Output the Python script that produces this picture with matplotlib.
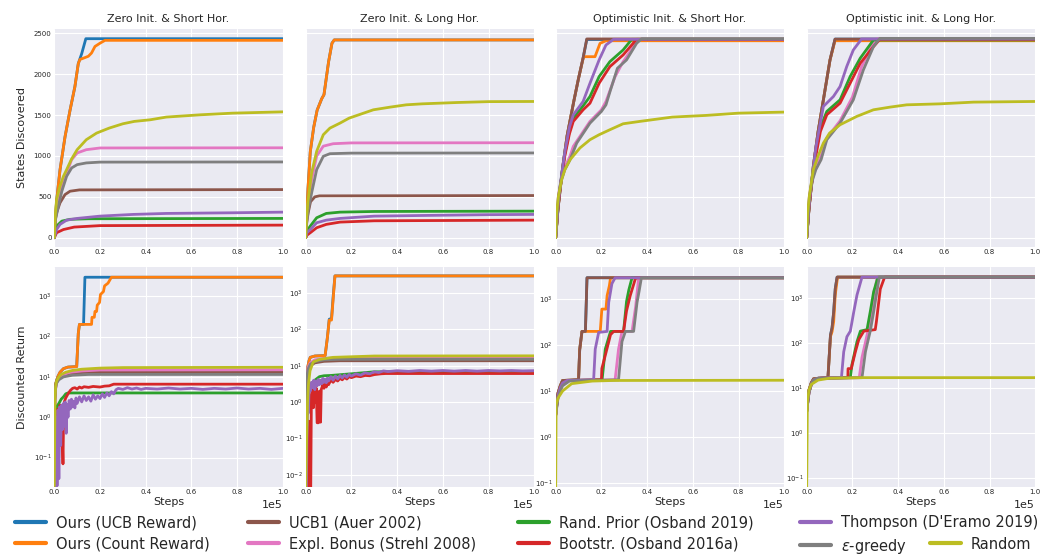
import matplotlib
matplotlib.use('Agg')
import matplotlib.pyplot as plt
from matplotlib.lines import Line2D

plt.style.use('seaborn-v0_8-darkgrid')
plt.rcParams['font.family'] = ['DejaVu Sans']

# ---------------- metadata ----------------
methods = ['ucb', 'count', 'ucb1', 'expl', 'prior', 'boot', 'thompson', 'egreedy', 'random']
labels = {
    'ucb': 'Ours (UCB Reward)', 'count': 'Ours (Count Reward)',
    'ucb1': 'UCB1 (Auer 2002)', 'expl': 'Expl. Bonus (Strehl 2008)',
    'prior': 'Rand. Prior (Osband 2019)', 'boot': 'Bootstr. (Osband 2016a)',
    'thompson': "Thompson (D'Eramo 2019)", 'egreedy': r'$\epsilon$-greedy',
    'random': 'Random',
}
colors = {
    'ucb': '#1f77b4', 'count': '#ff7f0e', 'ucb1': '#8c564b', 'expl': '#e377c2',
    'prior': '#2ca02c', 'boot': '#d62728', 'thompson': '#9467bd',
    'egreedy': '#7f7f7f', 'random': '#bcbd22',
}
titles = ['Zero Init. & Short Hor.', 'Zero Init. & Long Hor.',
          'Optimistic Init. & Short Hor.', 'Optimistic init. & Long Hor.']

# ---------------- data (x in thousands of steps) ----------------
# States discovered, Zero Init & Short Hor.
states_zs = {
    'ucb': ([0, 1, 2.5, 4.7, 6.9, 9, 10.5, 12, 13.8, 100],
            [0, 450, 830, 1236, 1562, 1846, 2131, 2253, 2435, 2435]),
    'count': ([0, 1, 2.5, 4.7, 6.9, 9, 10.5, 11.2, 14.9, 16.3, 17.8, 20, 22.2, 100],
              [0, 450, 830, 1236, 1562, 1846, 2131, 2180, 2220, 2260, 2340, 2380, 2415, 2415]),
    'ucb1': ([0, 0.3, 1, 2.5, 4.7, 6.9, 11, 100],
             [0, 200, 305, 427, 528, 569, 585, 589]),
    'expl': ([0, 0.5, 1.8, 3.3, 5.4, 7.6, 10, 14, 20, 100],
             [0, 250, 467, 630, 793, 955, 1037, 1077, 1098, 1100]),
    'prior': ([0, 1, 3.3, 6.9, 15, 100],
              [0, 142, 203, 225, 232, 236]),
    'boot': ([0, 1, 4, 8.7, 20, 100],
             [0, 61, 100, 130, 148, 154]),
    'thompson': ([0, 1, 2.5, 5.4, 10, 20, 34.5, 49, 78, 100],
                 [0, 100, 163, 215, 236, 264, 285, 297, 305, 313]),
    'egreedy': ([0, 0.5, 1.8, 3.3, 5.4, 7.6, 10, 14, 20, 100],
                [0, 220, 386, 569, 752, 854, 894, 915, 925, 927]),
    'random': ([0, 0.5, 1, 2.5, 4, 5.4, 7.5, 10, 14, 18.5, 24, 30, 35, 42, 49, 64, 78, 100],
               [0, 300, 467, 630, 752, 833, 960, 1077, 1199, 1280, 1341, 1394, 1423, 1443, 1476, 1504, 1524, 1540]),
}

# States discovered, Zero Init & Long Hor.
states_zl = {
    'ucb': ([0, 1, 2, 3.5, 5, 7, 8, 10, 11.5, 12.5, 100],
            [0, 600, 1050, 1350, 1560, 1700, 1750, 2150, 2380, 2420, 2420]),
    'count': ([0, 1, 2, 3.5, 5, 7, 8, 10, 11.5, 12.5, 100],
              [0, 600, 1050, 1350, 1560, 1700, 1750, 2150, 2380, 2420, 2420]),
    'ucb1': ([0, 0.4, 1.1, 2.1, 4, 6, 100],
             [0, 180, 305, 440, 500, 512, 516]),
    'expl': ([0, 0.5, 1, 2.6, 4.8, 7.7, 12, 20, 100],
             [0, 250, 400, 711, 1000, 1120, 1150, 1160, 1162]),
    'prior': ([0, 0.5, 2, 4.8, 9, 15, 30, 100],
              [0, 80, 142, 244, 297, 313, 321, 325]),
    'boot': ([0, 0.5, 2, 4.8, 9, 15, 30, 100],
             [0, 30, 61, 122, 163, 191, 207, 215]),
    'thompson': ([0, 0.5, 2, 4.8, 9, 15, 30, 51, 80, 100],
                 [0, 60, 100, 183, 215, 236, 264, 272, 282, 285]),
    'egreedy': ([0, 0.5, 1, 2.6, 4.8, 7.7, 10.6, 20, 100],
                [0, 200, 320, 549, 833, 996, 1028, 1035, 1037]),
    'random': ([0, 0.4, 1, 2.6, 4.8, 7.7, 10.6, 15, 19, 22, 29.6, 37, 44, 51, 66, 80, 100],
               [0, 250, 450, 793, 1057, 1260, 1341, 1402, 1463, 1492, 1565, 1598, 1626, 1638, 1654, 1665, 1667]),
}

# States discovered, Optimistic Init & Short Hor.
states_os = {
    'ucb': ([0, 1, 3, 5, 8, 10, 12, 13.6, 100],
            [0, 350, 850, 1250, 1680, 1950, 2200, 2425, 2425]),
    'count': ([0, 1, 3, 5, 8, 10, 11.5, 12.2, 17.2, 19.4, 22, 100],
              [0, 350, 850, 1250, 1680, 1950, 2134, 2215, 2215, 2378, 2410, 2410]),
    'ucb1': ([0, 1, 3, 5, 8, 10, 12, 13.6, 100],
             [0, 350, 850, 1250, 1680, 1950, 2200, 2432, 2432]),
    'expl': ([0, 1.2, 2.6, 4, 6.3, 7.7, 15, 20, 22, 26, 29.5, 34, 36, 100],
             [0, 520, 730, 860, 1000, 1118, 1423, 1565, 1667, 1971, 2154, 2337, 2427, 2427]),
    'prior': ([0, 1, 2, 4, 6, 7.7, 12, 15, 19, 23.7, 29.5, 33.3, 100],
              [0, 370, 640, 1030, 1300, 1463, 1614, 1728, 1971, 2154, 2297, 2427, 2427]),
    'boot': ([0, 1, 2, 4, 6, 7.7, 12, 15, 19, 23.7, 29.5, 35.4, 100],
             [0, 360, 620, 1000, 1270, 1423, 1565, 1646, 1890, 2093, 2236, 2427, 2427]),
    'thompson': ([0, 1, 2, 4, 6, 7.7, 12, 15, 19, 22, 25.3, 100],
                 [0, 380, 650, 1050, 1350, 1504, 1667, 1890, 2175, 2358, 2427, 2427]),
    'egreedy': ([0, 1.2, 2.6, 4, 6.3, 9.2, 15, 20, 22, 24, 27, 31, 35.4, 37.6, 100],
                [0, 508, 711, 833, 955, 1158, 1402, 1545, 1626, 1809, 2073, 2175, 2378, 2435, 2435]),
    'random': ([0, 0.4, 1.2, 2.6, 4, 6.3, 10.6, 15, 19, 23.7, 29.5, 36.8, 51, 65.6, 80, 100],
               [0, 300, 508, 711, 833, 955, 1098, 1199, 1260, 1321, 1394, 1423, 1476, 1496, 1524, 1537]),
}

# States discovered, Optimistic Init & Long Hor.
states_ol = {
    'ucb': ([0, 1, 2.9, 5, 7.3, 10.2, 12.4, 100],
            [0, 350, 874, 1300, 1687, 2175, 2430, 2430]),
    'count': ([0, 1, 2.9, 5, 7.3, 10.2, 12.4, 100],
              [0, 350, 874, 1300, 1687, 2175, 2410, 2410]),
    'ucb1': ([0, 1, 2.9, 5, 7.3, 10.2, 12.4, 100],
             [0, 350, 874, 1300, 1687, 2175, 2430, 2430]),
    'expl': ([0, 1.2, 2.6, 4, 6.3, 8.8, 14.6, 20, 24, 28.5, 31, 100],
             [0, 520, 730, 860, 1000, 1220, 1430, 1720, 2090, 2360, 2435, 2435]),
    'prior': ([0, 1, 2, 4, 6, 8.8, 14.6, 19, 23.4, 29.2, 100],
              [0, 370, 640, 1050, 1350, 1545, 1687, 1971, 2195, 2419, 2419]),
    'boot': ([0, 1, 2, 4, 6, 8.8, 14.6, 19, 23.4, 29.2, 32, 100],
             [0, 360, 620, 1000, 1300, 1504, 1646, 1890, 2134, 2337, 2427, 2427]),
    'thompson': ([0, 1, 2, 4, 7.3, 11.7, 14.6, 17.5, 20.4, 24, 100],
                 [0, 380, 650, 1100, 1606, 1728, 1850, 2093, 2297, 2431, 2431]),
    'egreedy': ([0, 1.2, 2.6, 4, 6.3, 8.8, 14.6, 20.4, 24.8, 29.2, 32, 100],
                [0, 508, 711, 833, 955, 1199, 1402, 1687, 2053, 2337, 2439, 2439]),
    'random': ([0, 0.4, 1.2, 2.9, 5, 7.3, 10, 14.6, 21.9, 29.2, 36.5, 43.8, 58.4, 73, 100],
               [0, 300, 520, 833, 1000, 1158, 1280, 1382, 1484, 1565, 1598, 1626, 1638, 1659, 1667]),
}

# Discounted return, Zero Init & Short Hor.
return_zs = {
    'ucb': ([0, 0.3, 0.7, 1.5, 2.5, 4, 6, 9.8, 10.5, 11.0, 12.8, 13.4, 100],
            [0.02, 3, 7, 10, 13, 16, 17.5, 18, 120, 200, 200, 2950, 2950]),
    'count': ([0, 0.3, 0.7, 1.5, 2.5, 4, 6, 9.8, 10.5, 11.0, 16.3, 16.5, 17.5, 17.8, 18.5, 18.8, 19.8, 20.2, 21.5, 22, 23.5, 25, 100],
              [0.02, 3, 7, 10, 13, 16, 17.5, 18, 120, 200, 200, 300, 300, 420, 420, 600, 700, 1100, 1300, 1800, 2100, 2950, 2950]),
    'ucb1': ([0, 0.5, 1, 2, 4, 8, 15, 100],
             [2, 6, 8, 10, 11.5, 12.5, 13, 13]),
    'expl': ([0, 0.3, 1, 2, 4, 7, 12, 20, 100],
             [0.02, 4, 7, 9.5, 11.5, 13, 14, 14.8, 15]),
    'prior': ([0, 0.5, 1, 2, 3, 4, 5, 6, 100],
              [0.02, 1.0, 1.8, 2.2, 2.8, 3.2, 3.8, 4.0, 4.0]),
    'boot': ([0, 0.5, 1.0, 1.5, 2.0, 2.5, 3.0, 3.5, 3.8, 4.1, 4.5, 5, 6, 7, 8, 9, 10, 11, 12, 13, 15, 17, 20, 22, 24, 26, 100],
             [0.02, 0.5, 1.3, 1.6, 1.4, 2.0, 1.8, 0.3, 0.07, 1.5, 2.5, 3.0, 3.8, 4.6, 5.2, 5.4, 5.0, 5.6, 5.3, 5.7, 5.5, 5.8, 5.6, 5.9, 6.0, 6.6, 6.6]),
    'thompson': ([0, 0.4, 0.8, 1.2, 1.6, 2.0, 2.4, 2.8, 3.2, 3.6, 4.0, 4.4, 4.8, 5.2, 5.6, 6.0, 6.5, 7.0, 7.5, 8.0, 8.5, 9.0, 9.5,
                  10, 11, 12, 13, 14, 15, 16, 17, 18, 19, 20, 21, 22, 23, 24, 25, 26, 27, 28, 30, 32, 34, 36, 38, 40,
                  45, 50, 55, 60, 65, 70, 75, 80, 85, 90, 95, 100],
                 [0.02, 0.02, 1.0, 0.02, 1.5, 0.03, 1.8, 0.2, 2.0, 0.5, 2.2, 0.6, 2.4, 0.4, 2.1, 1.0, 2.6, 1.6, 2.8, 1.8, 2.5, 1.7, 3.0,
                  2.2, 3.2, 2.4, 3.4, 2.6, 3.2, 2.5, 3.6, 2.8, 3.4, 2.9, 3.8, 3.1, 4.0, 3.4, 4.3, 3.8, 4.8, 5.2, 4.9, 5.4, 5.0, 5.3, 4.9, 5.2,
                  5.0, 5.3, 5.0, 5.2, 4.9, 5.2, 5.0, 5.3, 5.0, 5.2, 4.9, 5.2]),
    'egreedy': ([0, 0.5, 1, 2, 4, 8, 15, 100],
                [2, 5, 7, 8.5, 10, 11, 11.5, 11.5]),
    'random': ([0, 0.3, 0.6, 1, 2, 3, 5, 8, 12, 20, 30, 100],
               [0.02, 3, 6, 8, 10, 11.5, 13, 14.5, 15.5, 16.5, 17, 17.3]),
}

# Discounted return, Zero Init & Long Hor.
return_zl = {
    'ucb': ([0, 0.3, 0.7, 1.5, 2, 4, 8.5, 9.5, 10.3, 11.3, 12.1, 12.8, 100],
            [0.005, 3, 8, 14, 17, 18.5, 19, 60, 190, 200, 935, 2960, 2960]),
    'count': ([0, 0.3, 0.7, 1.5, 2, 4, 8.5, 9.5, 10.3, 11.3, 12.1, 12.8, 100],
              [0.005, 3, 8, 14, 17, 18.5, 19, 60, 180, 180, 800, 2960, 2960]),
    'ucb1': ([0, 0.3, 1, 2, 4, 8, 15, 100],
             [1, 4, 7.5, 10, 12, 13.2, 13.7, 13.7]),
    'expl': ([0, 0.3, 1, 2, 4, 8, 15, 100],
             [1, 5, 9, 12, 14.5, 16, 16.5, 16.5]),
    'prior': ([0, 0.5, 1, 2, 4, 6, 8, 11, 20, 30, 100],
              [0.004, 0.5, 2.0, 3.0, 4.0, 5.0, 5.3, 5.4, 6.0, 6.8, 7.0]),
    'boot': ([0, 1.0, 1.3, 1.6, 2.2, 2.5, 3.0, 3.4, 3.8, 4.3, 4.6, 5.0, 5.6, 6.0, 6.5, 6.8, 7.5, 8.0, 8.5, 9, 9.5, 10,
              11, 12, 13, 14, 15, 16, 17, 18, 19, 20, 22, 24, 26, 28, 30, 33, 35, 100],
             [0.004, 0.004, 0.3, 0.004, 0.004, 1.6, 2.2, 0.7, 2.0, 1.0, 2.4, 0.27, 0.27, 2.0, 0.28, 2.2, 3.0, 2.4, 3.3, 2.6, 3.6, 3.0,
              4.0, 3.5, 4.2, 3.8, 4.5, 4.1, 4.8, 4.3, 5.0, 4.7, 5.2, 5.0, 5.4, 5.3, 5.7, 6.0, 6.1, 6.1]),
    'thompson': ([0, 0.3, 0.6, 0.9, 1.2, 1.5, 2, 2.5, 3, 3.5, 4, 4.5, 5, 5.5, 6, 6.5, 7, 7.5, 8, 8.5, 9, 9.5, 10,
                  11, 12, 13, 14, 15, 16, 17, 18, 19, 20, 22, 24, 26, 28, 30, 32, 34, 36, 40, 45, 50, 55, 60,
                  65, 70, 75, 80, 85, 90, 95, 100],
                 [0.004, 0.004, 0.2, 1.5, 0.5, 3.0, 2.0, 3.5, 2.5, 4.0, 2.2, 3.8, 2.8, 4.2, 3.0, 4.0, 3.2, 4.5, 3.5, 4.2, 3.4, 4.6, 3.8,
                  5.0, 4.0, 5.2, 4.3, 5.4, 4.6, 5.6, 4.8, 5.8, 5.2, 6.0, 5.5, 6.4, 6.0, 6.8, 6.5, 7.2, 6.9, 7.3, 7.0, 7.4, 7.1, 7.4,
                  7.1, 7.4, 7.1, 7.4, 7.2, 7.4, 7.2, 7.3]),
    'egreedy': ([0, 0.3, 1, 2, 4, 8, 15, 100],
                [1, 4, 8, 11, 13, 14.5, 15, 15]),
    'random': ([0, 0.4, 0.8, 1.2, 1.9, 3.3, 6.2, 12, 30, 100],
               [0.004, 0.1, 1.0, 3.0, 7.3, 12.7, 15, 17, 18.5, 18.7]),
}

# Discounted return, Optimistic Init & Short Hor.
return_os = {
    'ucb': ([0, 0.5, 1, 2, 3, 10, 10.5, 11.5, 13, 13.7, 100],
            [3, 6, 9, 13, 17, 17.6, 80, 200, 200, 2960, 2960]),
    'count': ([0, 0.5, 1, 2, 3, 10, 10.5, 11.5, 19.5, 20.2, 22, 22.5, 23.5, 24, 100],
              [3, 6, 9, 13, 17, 17.6, 80, 200, 200, 613, 613, 1200, 2000, 2960, 2960]),
    'ucb1': ([0, 0.5, 1, 2, 3, 10, 10.5, 11.5, 13, 13.7, 100],
             [3, 6, 9, 13, 17, 17.6, 80, 200, 200, 2960, 2960]),
    'expl': ([0, 0.5, 1, 2, 3, 6, 26, 27.5, 29, 33.4, 35, 36.3, 100],
             [3, 5, 7, 11, 14, 17, 17.6, 82, 200, 200, 700, 2960, 2960]),
    'prior': ([0, 0.5, 1, 2, 3, 5, 20.3, 21.7, 24, 29.7, 31, 32, 33.4, 100],
              [3, 5, 8, 12, 15, 17, 17.6, 82, 200, 200, 900, 1600, 2960, 2960]),
    'boot': ([0, 0.5, 1, 2, 3, 5, 20, 20.2, 21.7, 24, 25.4, 29.7, 31, 32.6, 35, 100],
             [3, 5, 8, 12, 15, 17, 17.6, 31, 60, 170, 200, 200, 560, 1200, 2960, 2960]),
    'thompson': ([0, 0.5, 1, 2, 3, 5, 16.6, 17.3, 18.8, 22.5, 23.2, 24.6, 26, 100],
                 [3, 5, 8, 12, 15, 17, 17.6, 82, 190, 200, 860, 2200, 2960, 2960]),
    'egreedy': ([0, 0.5, 1, 2, 3, 6, 27.5, 29, 30.5, 34.1, 35.6, 36.5, 37.5, 100],
                [3, 4.5, 7, 10, 13, 16.5, 17.6, 120, 200, 200, 860, 1500, 2960, 2960]),
    'random': ([0, 0.2, 1, 3, 7, 16, 25, 100],
               [0.08, 5, 7, 10, 14.5, 16.5, 17, 17.2]),
}

# Discounted return, Optimistic Init & Long Hor.
return_ol = {
    'ucb': ([0, 0.5, 1, 2, 3, 9.3, 10.4, 11.1, 11.8, 12.5, 13.3, 100],
            [3, 6, 9, 13, 16, 17, 150, 220, 490, 1630, 2960, 2960]),
    'count': ([0, 0.5, 1, 2, 3, 9.3, 10.4, 11.1, 11.8, 12.5, 13.5, 100],
              [3, 6, 9, 13, 16, 17, 140, 180, 300, 1200, 2960, 2960]),
    'ucb1': ([0, 0.5, 1, 2, 3, 9.3, 10.4, 11.1, 11.8, 12.5, 13.3, 100],
             [3, 6, 9, 13, 16, 17, 150, 220, 490, 1630, 2960, 2960]),
    'expl': ([0, 0.5, 1, 2, 3, 5, 23, 24.2, 26.4, 27.9, 29.3, 30.8, 100],
             [3, 5, 8, 12, 15, 16.5, 17, 48, 150, 320, 1000, 2960, 2960]),
    'prior': ([0, 0.5, 1, 2, 3, 5, 19.1, 19.8, 22, 23.5, 26.4, 27.9, 29.3, 31.2, 100],
              [3, 5, 8, 12, 15, 16.5, 17, 33, 107, 185, 200, 530, 1400, 2960, 2960]),
    'boot': ([0, 0.5, 1, 2, 3, 5, 18, 18.1, 19.5, 21.3, 22.8, 25, 30, 30.5, 32.2, 34.1, 100],
             [3, 5, 8, 12, 15, 16.5, 17, 27, 27, 64, 120, 185, 200, 300, 1600, 2960, 2960]),
    'thompson': ([0, 0.5, 1, 2, 3, 5, 15.2, 16.2, 17.6, 19.1, 20.6, 22, 24.2, 100],
                 [3, 5, 8, 12, 15, 16.5, 17, 64, 139, 185, 500, 1180, 2960, 2960]),
    'egreedy': ([0, 0.5, 1, 2, 3, 5, 24.2, 25.7, 27.9, 29.3, 30.8, 31.8, 100],
                [3, 5, 8, 12, 15, 16.5, 17, 64, 195, 500, 1500, 2960, 2960]),
    'random': ([0, 0.3, 1, 2, 5, 10, 25, 100],
               [0.063, 5, 9, 12, 15, 16.5, 17, 17]),
}

states_panels = [states_zs, states_zl, states_os, states_ol]
return_panels = [return_zs, return_zl, return_os, return_ol]
return_ylims = [(0.019, 5200), (0.0047, 5100), (0.082, 5000), (0.063, 4900)]

# ---------------- figure ----------------
W, H = 1061, 555
fig = plt.figure(figsize=(W / 100, H / 100), dpi=100)
lefts = [54.3, 305.7, 555.7, 806.7]
aw = 228.5
top_row = (29.3, 246.7)
bot_row = (267.3, 486.7)
txt = '0.15'


def add_ax(left, row):
    return fig.add_axes([left / W, 1 - row[1] / H, aw / W, (row[1] - row[0]) / H])


def style(ax):
    ax.tick_params(axis='both', labelsize=5, pad=2, length=0, colors=txt)
    ax.set_xlim(0, 1e5)
    ax.set_xticks([0, 2e4, 4e4, 6e4, 8e4, 1e5])
    ax.ticklabel_format(axis='x', style='sci', scilimits=(0, 0))


for i in range(4):
    ax = add_ax(lefts[i], top_row)
    for m in methods:
        xs, ys = states_panels[i][m]
        ax.plot([x * 1000 for x in xs], ys, color=colors[m], lw=2.0)
    style(ax)
    ax.xaxis.get_offset_text().set_visible(False)
    ax.set_ylim(-110, 2550)
    ax.set_yticks([0, 500, 1000, 1500, 2000, 2500])
    if i > 0:
        ax.set_yticklabels([])
    else:
        ax.set_ylabel('States Discovered', fontsize=8, color=txt, labelpad=5)
    ax.set_title(titles[i], fontsize=8, color=txt, pad=5)

    bx = add_ax(lefts[i], bot_row)
    for m in methods:
        xs, ys = return_panels[i][m]
        bx.plot([x * 1000 for x in xs], ys, color=colors[m], lw=2.0)
    bx.set_yscale('log')
    style(bx)
    bx.set_ylim(*return_ylims[i])
    bx.minorticks_off()
    bx.xaxis.get_offset_text().set_fontsize(8)
    bx.xaxis.get_offset_text().set_color(txt)
    bx.set_xlabel('Steps', fontsize=8, color=txt, labelpad=1)
    if i == 0:
        bx.set_ylabel('Discounted Return', fontsize=8, color=txt, labelpad=5)

# ---------------- legend ----------------
legend_cols = [['ucb', 'count'], ['ucb1', 'expl'], ['prior', 'boot'], ['thompson', 'egreedy'], [None, 'random']]
legend_x = [15, 248, 518, 800, 930]
for col, lx in zip(legend_cols, legend_x):
    handles = []
    labs = []
    for m in col:
        if m is None:
            handles.append(Line2D([], [], color='none'))
            labs.append(' ')
        else:
            handles.append(Line2D([], [], color=colors[m], lw=3))
            labs.append(labels[m])
    fig.legend(handles, labs, loc='upper left', bbox_to_anchor=(lx / W, 1 - 515 / H),
               frameon=False, fontsize=10.5, borderpad=0, borderaxespad=0,
               handlelength=2.1, handletextpad=0.7, labelspacing=0.45)

fig.savefig('out.png', dpi=100)
